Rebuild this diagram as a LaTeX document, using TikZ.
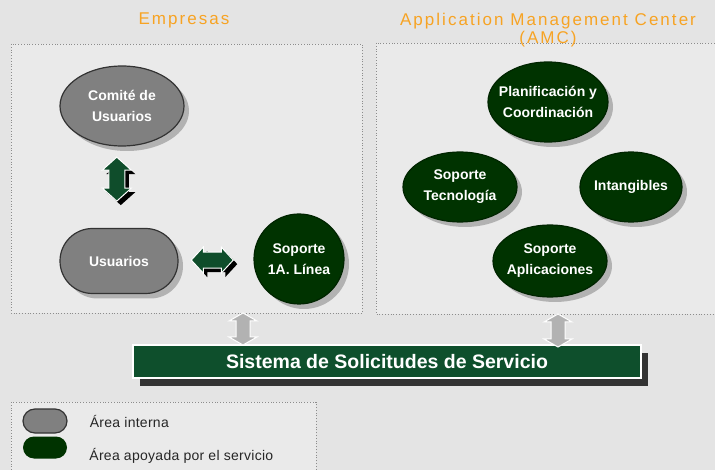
\documentclass[tikz,border=0pt]{standalone}
\usepackage{fontspec}
\setmainfont{Liberation Sans}
\newfontfamily\titlefont[LetterSpace=12]{Liberation Sans}
\newfontfamily\keyfont[LetterSpace=2]{Liberation Sans}
\usetikzlibrary{shapes.geometric}
\usetikzlibrary{shapes.misc}
\usetikzlibrary{shadows}
\usetikzlibrary{positioning}
\usetikzlibrary{calc}

\definecolor{bggray}{HTML}{E4E4E4}
\definecolor{boxgray}{HTML}{EAEAEA}
\definecolor{titleorange}{HTML}{F7A323}
\definecolor{areagray}{HTML}{808080}
\definecolor{areagreen}{HTML}{003300}
\definecolor{arrowgreen}{HTML}{0F4D2B}
\definecolor{bargreen}{HTML}{0E4F2C}

% block arrow: half length / half head width / half shaft / head length
\tikzset{pics/dblarrow/.style args={#1/#2/#3/#4}{code={
  \path[pic actions] (-#1,0) -- (-#1+#4,-#2) -- (-#1+#4,-#3) -- (#1-#4,-#3) -- (#1-#4,-#2)
    -- (#1,0) -- (#1-#4,#2) -- (#1-#4,#3) -- (-#1+#4,#3) -- (-#1+#4,#2) -- cycle;
}}}

\begin{document}
\begin{tikzpicture}[x=1pt, y=-1pt,
  internal/.style={ellipse, draw=black!80, line width=1.2pt, fill=areagray, text=white,
    font=\bfseries\fontsize{14}{21}\selectfont, align=center, inner xsep=-10pt, inner ysep=0pt,
    drop shadow={shadow xshift=5pt, shadow yshift=-5pt, fill=black!30, opacity=1}},
  served/.style={internal, draw=areagreen!70!black, fill=areagreen},
  area/.style={draw=black!45, dotted, line width=0.8pt, fill=boxgray},
  title/.style={text=titleorange, font=\titlefont\fontsize{17}{18}\selectfont, align=center},
  link/.style={draw=white, line width=1pt, fill=arrowgreen, line join=miter},
  linkshadow/.style={fill=black},
  hub/.style={draw=white, line width=1pt, fill=black!30, line join=miter},
  key/.style={rounded rectangle, minimum width=44pt, inner sep=0pt},
  keytext/.style={right=22pt of #1, font=\keyfont\fontsize{14}{16}\selectfont, text=black!85, inner sep=0pt}]

  % background
  \useasboundingbox (0,0) rectangle (715,470);
  \fill[bggray] (0,0) rectangle (715,470);

  % areas
  \draw[area] (11,44) rectangle (362,313);
  \draw[area] (376,43) rectangle (725,314);
  \node[title, anchor=base] (tempresas) at (184,25) {Empresas};
  \node[title, anchor=north] (tamc) at (548,10) {Application Management Center\\(AMC)};

  % empresas
  \node[internal, minimum width=124pt, minimum height=80pt] (comite) at (122,106) {Comité de\\Usuarios};
  \node[internal, rounded rectangle, minimum width=126pt, minimum height=65pt, inner xsep=4pt]
        (usuarios) at (119,261) {Usuarios};
  \node[served, circle, minimum size=90pt] (soporte1) at (299,259) {Soporte\\1A. Línea};

  \coordinate (lcomite) at ($(comite.south)!0.4!(usuarios.north) + (-4,0)$);
  \pic[linkshadow, rotate=90] at ($(lcomite)+(4,4)$) {dblarrow=22/14.5/8/13};
  \pic[link, rotate=90] at (lcomite) {dblarrow=22/14.5/8/13};
  \coordinate (lsoporte) at ($(usuarios.east)!0.45!(soporte1.west)$);
  \pic[linkshadow] at ($(lsoporte)+(4,4)$) {dblarrow=21/13/8/12};
  \pic[link] at (lsoporte) {dblarrow=21/13/8/12};

  % amc
  \node[served, minimum width=120pt, minimum height=80pt] (plan) at (548,102) {Planificación y\\Coordinación};
  \node[served, minimum width=114pt, minimum height=70pt] (tecno) at (460,187) {Soporte\\Tecnología};
  \node[served, minimum width=102pt, minimum height=70pt] (intang) at (631,187) {Intangibles};
  \node[served, minimum width=114pt, minimum height=72pt] (aplic) at (550,261) {Soporte\\Aplicaciones};

  % sistema
  \node[draw=white, line width=1.5pt, fill=bargreen, text=white, font=\bfseries\fontsize{19.5}{22}\selectfont,
        minimum width=508pt, minimum height=33pt,
        drop shadow={shadow xshift=7pt, shadow yshift=-8pt, fill=black!80, opacity=1}]
        (sistema) at (387,361.5) {Sistema de Solicitudes de Servicio};
  \pic[hub, rotate=90] (hleft) at (243,329) {dblarrow=16/14/7/8};
  \pic[hub, rotate=90] (hright) at (558,330.5) {dblarrow=16.5/14/7/8};

  % legend
  \draw[area] (11,402) rectangle (316,475);
  \node[key, draw=black!80, line width=1.2pt, fill=areagray, minimum height=24pt] (kint) at (45,421) {};
  \node[key, fill=areagreen, minimum height=22pt] (kserv) at (45,447.5) {};
  \node[keytext=kint] (tint) {Área interna};
  \node[keytext=kserv, yshift=-8pt] (tserv) {Área apoyada por el servicio};
\end{tikzpicture}
\end{document}
